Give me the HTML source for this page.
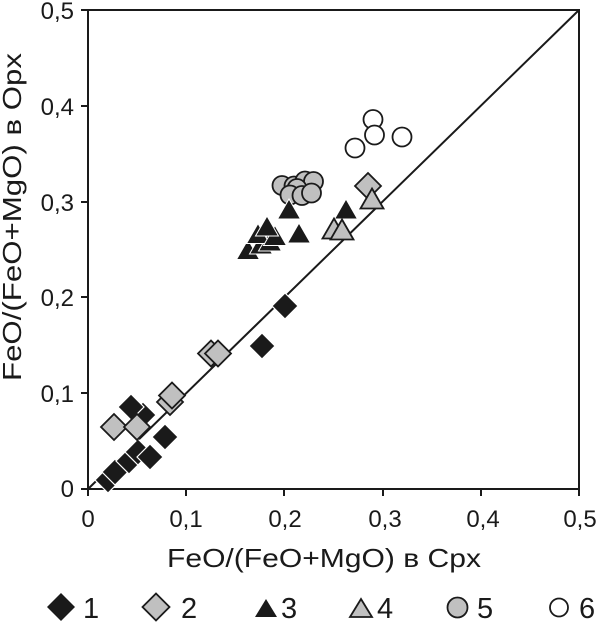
<!DOCTYPE html>
<html><head><meta charset="utf-8"><style>
html,body{margin:0;padding:0;background:#fff;}
svg{display:block;}
text{font-family:"Liberation Sans",Arial,sans-serif;fill:#1a1a1a;}
</style></head><body>
<svg width="600" height="623" viewBox="0 0 600 623" xmlns="http://www.w3.org/2000/svg">
<g stroke="#1a1a1a" stroke-width="2" fill="none">
<rect x="88" y="10" width="491" height="479"/>
<line x1="88" y1="489" x2="579" y2="10"/>
<line x1="81" y1="10" x2="88" y2="10"/>
<line x1="81" y1="106" x2="88" y2="106"/>
<line x1="81" y1="202" x2="88" y2="202"/>
<line x1="81" y1="297" x2="88" y2="297"/>
<line x1="81" y1="393" x2="88" y2="393"/>
<line x1="81" y1="489" x2="88" y2="489"/>
<line x1="88" y1="489" x2="88" y2="496"/>
<line x1="186" y1="489" x2="186" y2="496"/>
<line x1="284" y1="489" x2="284" y2="496"/>
<line x1="383" y1="489" x2="383" y2="496"/>
<line x1="481" y1="489" x2="481" y2="496"/>
<line x1="579" y1="489" x2="579" y2="496"/>
</g>
<g font-size="24" text-anchor="end">
<text x="74" y="19">0,5</text>
<text x="74" y="115">0,4</text>
<text x="74" y="211">0,3</text>
<text x="74" y="306">0,2</text>
<text x="74" y="402">0,1</text>
<text x="74" y="497">0</text>
</g>
<g font-size="24" text-anchor="middle">
<text x="88" y="527">0</text>
<text x="186" y="527">0,1</text>
<text x="285" y="527">0,2</text>
<text x="385" y="527">0,3</text>
<text x="483" y="527">0,4</text>
<text x="580" y="527">0,5</text>
</g>
<text x="324" y="567" font-size="26" text-anchor="middle" textLength="314" lengthAdjust="spacingAndGlyphs">FeO/(FeO+MgO) в Cpx</text>
<text transform="translate(21,217) rotate(-90)" x="0" y="0" font-size="26" text-anchor="middle" textLength="328" lengthAdjust="spacingAndGlyphs">FeO/(FeO+MgO) в Opx</text>

<!-- series 1 black diamonds -->
<g fill="#1a1a1a" stroke="#ffffff" stroke-width="1.2">
<path d="M108 467 L121 480 L108 493 L95 480Z"/>
<path d="M115 459 L128 472 L115 485 L102 472Z"/>
<path d="M129 448 L142 461 L129 474 L116 461Z"/>
<path d="M138 439 L151 452 L138 465 L125 452Z"/>
<path d="M150 444 L163 457 L150 470 L137 457Z"/>
<path d="M165 424 L178 437 L165 450 L152 437Z"/>
<path d="M143 402 L156 415 L143 428 L130 415Z"/>
<path d="M131 394 L144 407 L131 420 L118 407Z"/>
<path d="M262 333 L275 346 L262 359 L249 346Z"/>
<path d="M285 293 L298 306 L285 319 L272 306Z"/>
</g>
<!-- series 2 gray diamonds -->
<g fill="#c0c0c0" stroke="#1a1a1a" stroke-width="1.8">
<path d="M114 414 L127 427 L114 440 L101 427Z"/>
<path d="M137 414 L150 427 L137 440 L124 427Z"/>
<path d="M170 389 L183 402 L170 415 L157 402Z"/>
<path d="M172 382.5 L185 395.5 L172 408.5 L159 395.5Z"/>
<path d="M211 340.5 L224 353.5 L211 366.5 L198 353.5Z"/>
<path d="M218 340.5 L231 353.5 L218 366.5 L205 353.5Z"/>
<path d="M368 173 L381 186 L368 199 L355 186Z"/>
</g>
<!-- series 3 black triangles -->
<g fill="#1a1a1a" stroke="#ffffff" stroke-width="1">
<path d="M248 239.5 L259.5 259.5 L236.5 259.5Z"/>
<path d="M261 234 L272.5 254 L249.5 254Z"/>
<path d="M270 231 L281.5 251 L258.5 251Z"/>
<path d="M258 223.5 L269.5 243.5 L246.5 243.5Z"/>
<path d="M275 225.5 L286.5 245.5 L263.5 245.5Z"/>
<path d="M267 216 L278.5 236 L255.5 236Z"/>
<path d="M299 223 L310.5 243 L287.5 243Z"/>
<path d="M346 199 L357.5 219 L334.5 219Z"/>
</g>
<!-- series 4 gray triangles -->
<g fill="#c0c0c0" stroke="#1a1a1a" stroke-width="1.8">
<path d="M334 218.5 L345.5 238.5 L322.5 238.5Z"/>
<path d="M342 219.5 L353.5 239.5 L330.5 239.5Z"/>
<path d="M372 188.5 L383.5 208.5 L360.5 208.5Z"/>
</g>
<!-- series 5 gray circles -->
<g fill="#c0c0c0" stroke="#1a1a1a" stroke-width="1.8">
<circle cx="282" cy="185.5" r="9.5"/>
<circle cx="294" cy="186" r="9.5"/>
<circle cx="305" cy="181" r="9.5"/>
<circle cx="313.5" cy="181.5" r="9.5"/>
<circle cx="297" cy="188.5" r="9.5"/>
<circle cx="290" cy="195" r="9.5"/>
<circle cx="302" cy="195.5" r="9.5"/>
<circle cx="311.5" cy="193" r="9.5"/>
</g>
<!-- black triangle in front of circles -->
<path d="M289 199 L300.5 219 L277.5 219Z" fill="#1a1a1a" stroke="#ffffff" stroke-width="1"/>
<!-- series 6 open circles -->
<g fill="#ffffff" stroke="#1a1a1a" stroke-width="1.8">
<circle cx="373" cy="119.5" r="9.5"/>
<circle cx="374.5" cy="135" r="9.5"/>
<circle cx="402" cy="137" r="9.5"/>
<circle cx="355" cy="148" r="9.5"/>
</g>

<!-- legend -->
<path d="M61 593 L75 607 L61 621 L47 607Z" fill="#1a1a1a"/>
<path d="M156 593.5 L169.5 607 L156 620.5 L142.5 607Z" fill="#c0c0c0" stroke="#1a1a1a" stroke-width="1.8"/>
<path d="M266 599 L277 617 L255 617Z" fill="#1a1a1a"/>
<path d="M361 599 L372 617 L350 617Z" fill="#c0c0c0" stroke="#1a1a1a" stroke-width="1.8"/>
<circle cx="457.5" cy="607.5" r="10" fill="#c0c0c0" stroke="#1a1a1a" stroke-width="1.8"/>
<circle cx="559" cy="607.5" r="9" fill="#fff" stroke="#1a1a1a" stroke-width="1.8"/>
<g font-size="29">
<text x="83" y="618">1</text>
<text x="181" y="618">2</text>
<text x="281" y="618">3</text>
<text x="377" y="618">4</text>
<text x="477" y="618">5</text>
<text x="579" y="618">6</text>
</g>
</svg>
</body></html>
